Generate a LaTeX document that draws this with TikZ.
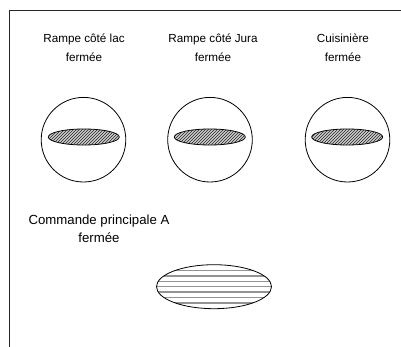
\documentclass[tikz,border=0pt]{standalone}
\usepackage{fontspec}
\setmainfont{Liberation Sans}
\usetikzlibrary{shapes.geometric,patterns}

\tikzset{
    switch/.style={draw,line width=0.8pt,circle,inner sep=0pt,minimum size=84.6pt},
    contact/.style={draw,line width=0.8pt,ellipse,inner sep=0pt,minimum width=71pt,minimum height=16pt,
        fill=gray!40,postaction={pattern=north east lines,pattern color=black!85}},
    mainlabel/.style={inner sep=0pt,align=center,anchor=base},
}

\begin{document}
\begin{tikzpicture}[x=1pt,y=-1pt]
    \useasboundingbox (0,0) rectangle (401,347);

    % open frame, top and left side only
    \coordinate (topleft) at (9,10.5);
    \coordinate (topright) at (401,10.5);
    \coordinate (bottomleft) at (9,347);
    \draw[line width=0.9pt,black!85] (topright) -- (topleft) -- (bottomleft);

    % labels of the three switches (base = last line)
    \node[mainlabel,font=\fontsize{11.7}{18.3}\selectfont] (lbllac) at (84,61.3) {Rampe côté lac\\fermée};
    \node[mainlabel,font=\fontsize{11.7}{18.3}\selectfont] (lbljura) at (213,61.3) {Rampe côté Jura\\fermée};
    \node[mainlabel,font=\fontsize{11.7}{18.3}\selectfont] (lblcuis) at (343,61.3) {Cuisinière\\fermée};

    % switches: circle with closed contact inside
    \node[switch] (lac) at (83.5,139.7) {};
    \node[switch] (jura) at (210,139.7) {};
    \node[switch] (cuis) at (347.5,139.7) {};
    \node[contact] (clac) at (83.8,137) {};
    \node[contact] (cjura) at (209.8,137) {};
    \node[contact] (ccuis) at (347.2,137) {};

    % main switch A
    \node[mainlabel,font=\fontsize{13.2}{17.7}\selectfont] (lblmain) at (99,242.7) {Commande principale A\\fermée};
    \node[draw,line width=0.8pt,ellipse,inner sep=0pt,minimum width=115pt,minimum height=44pt,
        path picture={
            \foreach \k in {-3,...,3}
                \draw[gray!85,line width=1.4pt]
                    ([yshift=\k*5.45pt]path picture bounding box.west) --
                    ([yshift=\k*5.45pt]path picture bounding box.east);
        }] (main) at (214,286.7) {};
\end{tikzpicture}
\end{document}
